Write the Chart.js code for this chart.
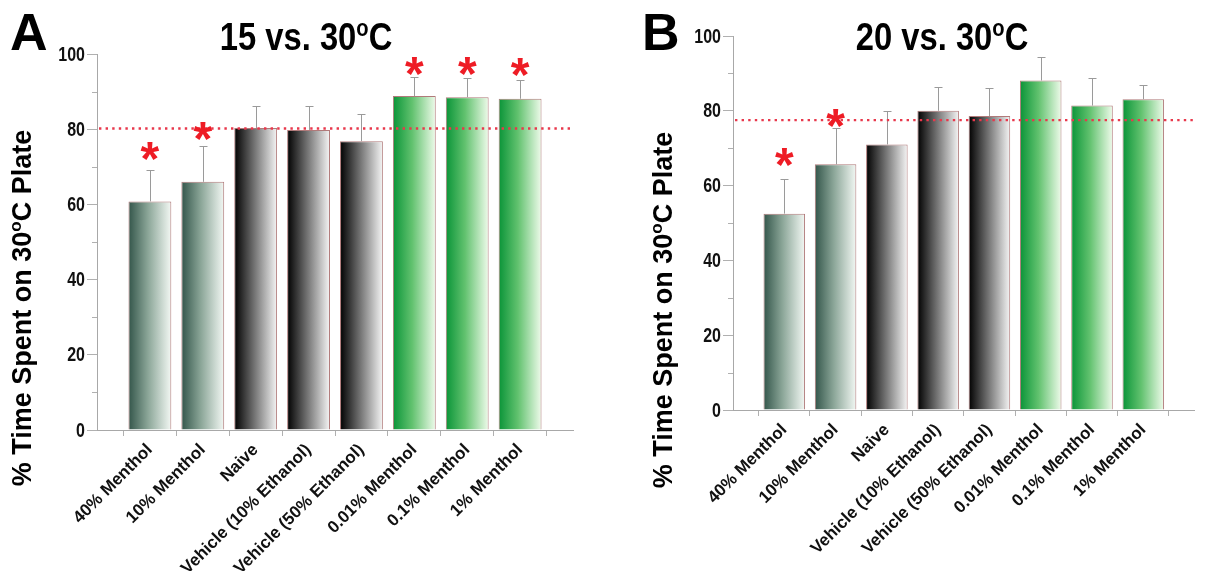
<!DOCTYPE html>
<html>
<head>
<meta charset="utf-8">
<script src="https://cdn.jsdelivr.net/npm/chart.js@4.4.1/dist/chart.umd.min.js"></script>
<style>
  body { margin: 0; background: #fff; width: 1213px; height: 571px; overflow: hidden; position: relative; }
  .panel { position: absolute; top: 0; height: 571px; }
</style>
</head>
<body>
<div class="panel" style="left:0;width:606px"><canvas id="chartA"></canvas></div>
<div class="panel" style="left:606px;width:607px"><canvas id="chartB"></canvas></div>
<script>
const categories = ["40% Menthol", "10% Menthol", "Naive", "Vehicle (10% Ethanol)", "Vehicle (50% Ethanol)", "0.01% Menthol", "0.1% Menthol", "1% Menthol"];
const groups = ["sage", "sage", "black", "black", "black", "green", "green", "green"];
const yTicks = [0, 20, 40, 60, 80, 100];
const yMinorTicks = [10, 30, 50, 70, 90];

// panel A : 15 vs. 30
const meanA = [60.8, 66, 80.3, 79.8, 76.8, 88.8, 88.5, 88.1];
const errTopA = [69.2, 75.4, 86.3, 86.3, 84, 94, 93.5, 93.2];
const starA = [74.3, 79.6, null, null, null, 96.8, 96.8, 96.6];
const refA = 80.2;

// panel B : 20 vs. 30
const meanB = [52.5, 65.7, 71, 80, 78.6, 88.1, 81.4, 83.1];
const errTopB = [61.8, 75.3, 80, 86.4, 86.2, 94.4, 88.7, 87];
const starB = [67.7, 78.1, null, null, null, null, null, null];
const refB = 77.5;

const gradStops = {
  sage: ["#33554a", "#8aa597", "#f3f8f4"],
  black: ["#000000", "#6e6e6e", "#f5f5f5"],
  green: ["#0a9438", "#62c26f", "#effbeb"]
};

const BAR_PCT = 0.81;
const SANS = "'Liberation Sans', Arial, sans-serif";

function barFill(ctx) {
  const chart = ctx.chart;
  const i = ctx.dataIndex - 1;
  if (!chart.chartArea || i < 0 || i >= groups.length) return "#888";
  const x = chart.scales.x;
  const step = x.getPixelForValue(1) - x.getPixelForValue(0);
  const cx = x.getPixelForValue(ctx.dataIndex);
  const half = step * BAR_PCT / 2;
  const g = chart.ctx.createLinearGradient(cx - half, 0, cx + half, 0);
  const s = gradStops[groups[i]];
  g.addColorStop(0, s[0]);
  g.addColorStop(0.45, s[1]);
  g.addColorStop(1, s[2]);
  return g;
}

// text with a raised small "o" for the degree mark, squeezed by sx
function drawDegText(c, before, after, x, y, size, sx) {
  const big = "bold " + size + "px " + SANS;
  const small = "bold " + Math.round(size * 0.62) + "px " + SANS;
  c.save();
  c.translate(x, y);
  c.scale(sx, 1);
  c.font = big; const w1 = c.measureText(before).width;
  c.font = small; const w2 = c.measureText("o").width;
  c.font = big; const w3 = c.measureText(after).width;
  let px = -(w1 + w2 + w3) / 2;
  c.textAlign = "left";
  c.textBaseline = "alphabetic";
  c.font = big; c.fillText(before, px, 0); px += w1;
  c.font = small; c.fillText("o", px, -size * 0.36); px += w2;
  c.font = big; c.fillText(after, px, 0);
  c.restore();
}

function makeChart(id, mean, errTop, stars, ref, opts) {
  const extras = {
    id: "extras",
    afterDatasetsDraw(chart) {
      const c = chart.ctx;
      const x = chart.scales.x, y = chart.scales.y;
      const meta = chart.getDatasetMeta(0);
      c.save();
      // minor y ticks
      c.strokeStyle = "#b0b0b0";
      c.lineWidth = 1;
      yMinorTicks.forEach(v => {
        const py = Math.round(y.getPixelForValue(v)) + 0.5;
        c.beginPath();
        c.moveTo(y.right - 5, py);
        c.lineTo(y.right, py);
        c.stroke();
      });
      // y tick labels, condensed
      c.fillStyle = "#111";
      c.font = "bold 20px " + SANS;
      c.textAlign = "right";
      c.textBaseline = "middle";
      yTicks.forEach(v => {
        c.save();
        c.translate(y.right - 12, y.getPixelForValue(v) + 1);
        c.scale(0.8, 1);
        c.fillText(String(v), 0, 0);
        c.restore();
      });
      // error bars
      c.strokeStyle = "#9a9a9a";
      c.lineWidth = 1;
      errTop.forEach((v, i) => {
        const bar = meta.data[i + 1];
        const bx = Math.round(bar.x) + 0.5;
        const top = Math.round(y.getPixelForValue(v)) + 0.5;
        c.beginPath();
        c.moveTo(bx, y.getPixelForValue(mean[i]));
        c.lineTo(bx, top);
        c.moveTo(bx - 4, top);
        c.lineTo(bx + 4, top);
        c.stroke();
      });
      // reference dotted line
      const ry = y.getPixelForValue(ref);
      c.strokeStyle = "#e8384c";
      c.lineWidth = 2.4;
      c.setLineDash([2.4, 4.2]);
      c.beginPath();
      c.moveTo(x.left + 2, ry);
      c.lineTo(x.right, ry);
      c.stroke();
      c.setLineDash([]);
      // asterisks
      c.fillStyle = "#ee1c25";
      c.font = "bold 48px " + SANS;
      c.textAlign = "center";
      c.textBaseline = "alphabetic";
      stars.forEach((v, i) => {
        if (v == null) return;
        const bar = meta.data[i + 1];
        c.fillText("*", bar.x, y.getPixelForValue(v) + 24);
      });
      // panel letter, title, axis title
      c.fillStyle = "#000";
      c.font = "bold 52px " + SANS;
      c.textAlign = "left";
      c.fillText(opts.letter, opts.letterX, 50);
      drawDegText(c, opts.title, "C", opts.titleX, 50, 39, 0.84);
      c.save();
      c.translate(opts.yTitleX, opts.yTitleY);
      c.rotate(-Math.PI / 2);
      drawDegText(c, "% Time Spent on 30", "C Plate", 0, 10, 27, 1);
      c.restore();
      c.restore();
    }
  };

  return new Chart(document.getElementById(id), {
    type: "bar",
    data: {
      labels: ["", ...categories, ""],
      datasets: [{
        data: [null, ...mean, null],
        backgroundColor: barFill,
        borderColor: "#b07a7a",
        borderWidth: 1,
        borderSkipped: "bottom",
        barPercentage: BAR_PCT,
        categoryPercentage: 1
      }]
    },
    options: {
      responsive: true,
      maintainAspectRatio: false,
      animation: false,
      events: [],
      layout: { padding: opts.padding },
      plugins: { legend: { display: false }, tooltip: { enabled: false } },
      scales: {
        x: {
          offset: false,
          grid: { drawOnChartArea: false, drawTicks: true, tickLength: 6, color: "#b0b0b0" },
          border: { color: "#a8a8a8", width: 1 },
          ticks: {
            autoSkip: false,
            maxRotation: 45,
            minRotation: 45,
            padding: 4,
            color: "#111",
            font: { family: SANS, size: 17, weight: "bold" }
          },
          afterFit(s) { s.height = opts.xHeight; }
        },
        y: {
          min: 0,
          max: 100,
          grid: { drawOnChartArea: false, drawTicks: true, tickLength: 10, color: "#b0b0b0" },
          border: { color: "#a8a8a8", width: 1 },
          ticks: { stepSize: 20, display: false },
          afterFit(s) { s.width = opts.yWidth; }
        }
      }
    },
    plugins: [extras]
  });
}

makeChart("chartA", meanA, errTopA, starA, refA, {
  letter: "A", letterX: 10, title: "15 vs. 30", titleX: 306,
  yTitleX: 21, yTitleY: 308,
  padding: { left: 0, right: 33, top: 54, bottom: 0 },
  yWidth: 97, xHeight: 141
});

makeChart("chartB", meanB, errTopB, starB, refB, {
  letter: "B", letterX: 36, title: "20 vs. 30", titleX: 336,
  yTitleX: 56, yTitleY: 310,
  padding: { left: 0, right: 6, top: 36, bottom: 0 },
  yWidth: 127, xHeight: 161
});
</script>
</body>
</html>
